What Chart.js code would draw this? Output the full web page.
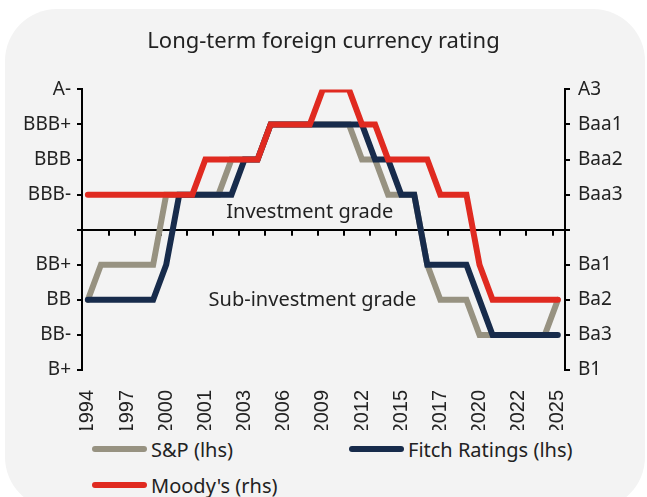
<!DOCTYPE html>
<html>
<head>
<meta charset="utf-8">
<script src="https://cdn.jsdelivr.net/npm/chart.js@4.4.0/dist/chart.umd.min.js"></script>
<style>
  html, body { margin: 0; padding: 0; background: #fff; }
  body { width: 647px; height: 497px; position: relative; overflow: hidden; font-family: "Noto Sans", sans-serif; }
  #card { position: absolute; left: 5px; top: 9px; width: 640px; height: 500px; background: #f3f3f3; border-radius: 52px; }
  #wrap { position: absolute; left: 0; top: 0; width: 647px; height: 430px; }
  #legend { position: absolute; left: 92px; top: 431px; display: grid; grid-template-columns: 257px auto; }
  .item { display: flex; align-items: center; height: 36px; font-size: 20px; color: #222; white-space: nowrap; }
  .swatch { width: 55px; height: 6px; border-radius: 3px; margin-right: 4px; }
</style>
</head>
<body>
<div id="card"></div>
<div id="wrap"><canvas id="chart"></canvas></div>
<div id="legend"></div>
<script>
// x-axis labels (one every 3 steps)
const years = ['1994', '1997', '2000', '2001', '2003', '2006', '2009', '2012', '2015', '2017', '2020', '2022', '2025'];
// rating scales, index 0 = lowest; index 4 is the investment-grade boundary
const lhsLabels = ['B+', 'BB-', 'BB', 'BB+', '', 'BBB-', 'BBB', 'BBB+', 'A-'];
const rhsLabels = ['B1', 'Ba3', 'Ba2', 'Ba1', '', 'Baa3', 'Baa2', 'Baa1', 'A3'];

// rating index per step
const sp     = [2, 3, 3, 3, 3, 3, 5, 5, 5, 5, 5, 6, 6, 6, 7, 7, 7, 7, 7, 7, 7, 6, 6, 5, 5, 5, 3, 2, 2, 2, 1, 1, 1, 1, 1, 1, 2];
const fitch  = [2, 2, 2, 2, 2, 2, 3, 5, 5, 5, 5, 5, 6, 6, 7, 7, 7, 7, 7, 7, 7, 7, 6, 6, 5, 5, 3, 3, 3, 3, 2, 1, 1, 1, 1, 1, 1];
const moodys = [5, 5, 5, 5, 5, 5, 5, 5, 5, 6, 6, 6, 6, 6, 7, 7, 7, 7, 8, 8, 8, 7, 7, 6, 6, 6, 6, 5, 5, 5, 3, 2, 2, 2, 2, 2, 2];

const toPoints = arr => arr.map((v, i) => ({ x: i, y: v }));
const font = '"Noto Sans", sans-serif';

const gradeMarks = {
  id: 'gradeMarks',
  beforeDatasetsDraw(chart) {
    const { ctx, scales: { x, y } } = chart;
    const y0 = y.getPixelForValue(4);
    ctx.save();
    ctx.strokeStyle = '#000';
    ctx.lineWidth = 2;
    for (let u = 1.6; u < 36.5; u += 2) {
      const px = Math.round(x.getPixelForValue(u));
      ctx.beginPath();
      ctx.moveTo(px, y0);
      ctx.lineTo(px, y0 + 6);
      ctx.stroke();
    }
    ctx.font = '20px ' + font;
    ctx.fillStyle = '#222';
    ctx.textAlign = 'center';
    ctx.textBaseline = 'middle';
    ctx.fillText('Investment grade', x.getPixelForValue(17), y.getPixelForValue(4.5));
    ctx.fillText('Sub-investment grade', x.getPixelForValue(17.2), y.getPixelForValue(2));
    ctx.restore();
  }
};

const lineStyle = { borderWidth: 6, pointRadius: 0, borderCapStyle: 'round', tension: 0, fill: false };

const chart = new Chart(document.getElementById('chart'), {
  type: 'line',
  data: {
    datasets: [
      { label: 'S&P (lhs)', data: toPoints(sp), borderColor: '#979281', yAxisID: 'y', order: 3, ...lineStyle },
      { label: 'Fitch Ratings (lhs)', data: toPoints(fitch), borderColor: '#172b4b', yAxisID: 'y', order: 2, ...lineStyle },
      { label: "Moody's (rhs)", data: toPoints(moodys), borderColor: '#e02a20', yAxisID: 'y1', order: 1, ...lineStyle }
    ]
  },
  options: {
    responsive: true,
    maintainAspectRatio: false,
    animation: false,
    layout: { padding: 0 },
    plugins: {
      legend: { display: false },
      tooltip: { enabled: false },
      title: {
        display: true,
        text: 'Long-term foreign currency rating',
        color: '#222',
        font: { family: font, size: 22, weight: 'normal' },
        padding: { top: 29, bottom: 34 }
      }
    },
    scales: {
      x: {
        type: 'linear',
        min: -0.45,
        max: 36.55,
        grid: { display: false },
        border: { display: false },
        afterBuildTicks: s => { s.ticks = years.map((_, i) => ({ value: i * 3 })); },
        afterFit: s => { s.height = 60; },
        ticks: {
          autoSkip: false,
          maxRotation: 90,
          minRotation: 90,
          padding: 12,
          color: '#222',
          font: { family: '"Liberation Sans", Arial, sans-serif', size: 20 },
          callback: v => years[v / 3]
        }
      },
      y: {
        position: 'left',
        min: 0,
        max: 8,
        afterFit: s => { s.width = 82; },
        grid: {
          drawOnChartArea: true,
          color: c => c.index === 4 ? '#000' : 'rgba(0,0,0,0)',
          lineWidth: 2,
          tickColor: '#000',
          tickLength: 5
        },
        border: { color: '#000', width: 2 },
        ticks: {
          stepSize: 1,
          padding: 6,
          color: '#222',
          font: { family: font, size: 19 },
          callback: v => lhsLabels[v]
        }
      },
      y1: {
        position: 'right',
        min: 0,
        max: 8,
        afterFit: s => { s.width = 82; },
        grid: { drawOnChartArea: false, tickColor: '#000', tickLength: 5, lineWidth: 2 },
        border: { color: '#000', width: 2 },
        ticks: {
          stepSize: 1,
          padding: 8,
          color: '#222',
          font: { family: font, size: 19 },
          callback: v => rhsLabels[v]
        }
      }
    }
  },
  plugins: [gradeMarks]
});

// legend in two columns, like the original
const legend = document.getElementById('legend');
chart.data.datasets.forEach(ds => {
  const item = document.createElement('div');
  item.className = 'item';
  const sw = document.createElement('span');
  sw.className = 'swatch';
  sw.style.background = ds.borderColor;
  const txt = document.createElement('span');
  txt.textContent = ds.label;
  item.appendChild(sw);
  item.appendChild(txt);
  legend.appendChild(item);
});
</script>
</body>
</html>
